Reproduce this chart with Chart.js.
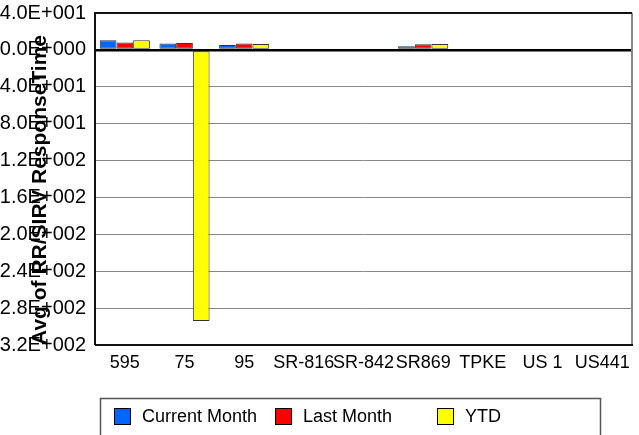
<!DOCTYPE html>
<html>
<head>
<meta charset="utf-8">
<script src="https://cdn.jsdelivr.net/npm/chart.js@4/dist/chart.umd.min.js"></script>
<style>
  html, body { margin: 0; padding: 0; background: #fff; overflow: hidden; }
  #wrap { position: absolute; left: -21px; top: 0; width: 660px; height: 435px; }
</style>
</head>
<body>
<div id="wrap"><canvas id="chart" width="660" height="435"></canvas></div>
<script>
const categories = ['595', '75', '95', 'SR-816', 'SR-842', 'SR869', 'TPKE', 'US 1', 'US441'];
const currentMonth = [10.5, 6.8, 5.4, null, null, 4.0, null, null, null];
const lastMonth = [7.9, 7.6, 6.8, null, null, 6.2, null, null, null];
const ytd = [10.5, -294, 6.5, null, null, 6.5, null, null, null];
const yMin = -320;
const yMax = 40;
const yStep = 40;

const FONT = 'Arial, "Liberation Sans", sans-serif';

function sciLabel(v) {
  const parts = Math.abs(v).toExponential(1).split('e');
  const exp = parseInt(parts[1], 10);
  return (v < 0 ? '-' : '') + parts[0] + 'E' + (exp < 0 ? '-' : '+') + String(Math.abs(exp)).padStart(3, '0');
}

// plot frame + boxed legend underneath
const framePlugin = {
  id: 'frame',
  afterDraw(chart) {
    const { ctx, chartArea: a } = chart;
    ctx.save();
    ctx.lineWidth = 2;
    ctx.strokeStyle = '#888';
    ctx.beginPath();
    ctx.moveTo(a.right, a.top);
    ctx.lineTo(a.right, a.bottom);
    ctx.stroke();
    ctx.strokeStyle = '#111';
    ctx.beginPath();
    ctx.moveTo(a.left, a.bottom);
    ctx.lineTo(a.left, a.top);
    ctx.lineTo(a.right, a.top);
    ctx.moveTo(a.left, a.bottom);
    ctx.lineTo(a.right + 1, a.bottom);
    ctx.stroke();

    // legend
    ctx.lineWidth = 1.5;
    ctx.strokeStyle = '#555';
    ctx.strokeRect(121.5, 398.5, 500, 50);
    const xs = [135, 296, 458];
    ctx.font = '18px ' + FONT;
    ctx.textBaseline = 'middle';
    ctx.textAlign = 'left';
    chart.data.datasets.forEach((ds, i) => {
      ctx.fillStyle = ds.backgroundColor;
      ctx.fillRect(xs[i], 408, 17, 17);
      ctx.lineWidth = 1;
      ctx.strokeStyle = '#000';
      ctx.strokeRect(xs[i] + 0.5, 408.5, 16, 16);
      ctx.fillStyle = '#000';
      ctx.fillText(ds.label, xs[i] + 28, 417);
    });
    ctx.restore();
  }
};

const ctx = document.getElementById('chart').getContext('2d');
new Chart(ctx, {
  type: 'bar',
  data: {
    labels: categories,
    datasets: [
      { label: 'Current Month', data: currentMonth, backgroundColor: '#0066ff' },
      { label: 'Last Month', data: lastMonth, backgroundColor: '#ff0000' },
      { label: 'YTD', data: ytd, backgroundColor: '#ffff00' }
    ]
  },
  options: {
    responsive: false,
    animation: false,
    devicePixelRatio: 1,
    layout: { padding: { top: 13, right: 7, left: 0, bottom: 0 } },
    datasets: {
      bar: {
        borderColor: '#333',
        borderWidth: 1,
        borderSkipped: false,
        categoryPercentage: 0.84,
        barPercentage: 1.0
      }
    },
    plugins: {
      legend: { display: false },
      tooltip: { enabled: false }
    },
    scales: {
      x: {
        grid: { display: false, drawTicks: false },
        border: { display: false },
        ticks: { color: '#000', font: { family: FONT, size: 18 }, padding: 7, maxRotation: 0, autoSkip: false },
        afterFit(scale) {
          scale.height = 90;
          scale.paddingLeft = 0;
          scale.paddingRight = 0;
        }
      },
      y: {
        min: yMin,
        max: yMax,
        grid: {
          drawTicks: false,
          color: c => (c.tick && c.tick.value === 0) ? '#000' : '#888',
          lineWidth: c => (c.tick && c.tick.value === 0) ? 2.5 : 1
        },
        border: { display: false },
        ticks: {
          stepSize: yStep,
          color: '#000',
          padding: 9,
          font: { family: FONT, size: 20 },
          callback: v => sciLabel(v)
        },
        title: {
          display: true,
          align: 'start',
          text: 'Avg of RR/SIRV ResponseTime',
          color: '#000',
          font: { family: FONT, size: 21, weight: 'bold' },
          padding: { top: 49, bottom: 0 }
        },
        afterFit(scale) {
          scale.width = 116;
          scale.paddingTop = 0;
          scale.paddingBottom = 0;
        }
      }
    }
  },
  plugins: [framePlugin]
});
</script>
</body>
</html>
